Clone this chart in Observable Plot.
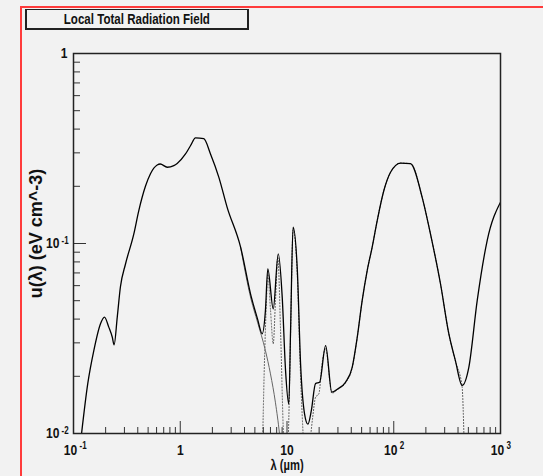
<!DOCTYPE html>
<html>
<head>
<meta charset="utf-8">
<script src="https://cdn.jsdelivr.net/npm/d3@7"></script>
<script src="https://cdn.jsdelivr.net/npm/@observablehq/plot@0.6"></script>
<style>
  html, body { margin: 0; padding: 0; background: #f2f2f2; width: 543px; height: 476px; overflow: hidden; }
  #page { position: relative; width: 543px; height: 476px; }
  #edge { position: absolute; left: 20px; top: 6px; right: -10px; bottom: -10px;
          border-left: 2px solid #ff3b3b; border-top: 2px solid #ff3b3b; }
  #title { position: absolute; left: 25px; top: 9px; width: 224px; height: 21px; box-sizing: border-box;
           border: 1px solid #222; border-left-width: 2px; border-right-width: 2px; border-bottom-width: 2px;
           font: bold 15px "Liberation Sans", Arial, sans-serif;
           text-align: center; line-height: 18px; color: #111; white-space: nowrap; }
  #title span { display: inline-block; transform: scaleX(0.77); transform-origin: center; }
  #chart { position: absolute; left: 0; top: 0; }
</style>
</head>
<body>
<div id="page">
  <div id="edge"></div>
  <div id="chart"></div>
  <div id="title"><span>Local Total Radiation Field</span></div>
</div>
<script>
// Local interstellar radiation field: energy density u(λ) in eV cm^-3 versus wavelength in µm.

// Total field
const totalLambda = [0.119, 0.136, 0.155, 0.179, 0.195, 0.214, 0.231, 0.240, 0.257, 0.275,
  0.307, 0.367, 0.409, 0.472, 0.526, 0.608, 0.650, 0.755, 0.87, 0.936,
  1.12, 1.25, 1.39, 1.66, 1.92, 2.30, 2.75, 3.67, 4.6, 5.3,
  5.86, 6.28, 6.61, 7.43, 8.28, 9.02, 9.69, 10.4, 10.8, 11.4,
  12.5, 13.4, 14.6, 15.7, 16.9, 18.5, 20.2, 23.0, 26.3, 30.0,
  35.3, 40.8, 45.5, 50.6, 56.4, 62.8, 70, 80.8, 93.3, 116,
  143.5, 184.6, 221, 274, 328, 378, 437, 505, 605, 751, 1000];
const totalU = [0.0100, 0.0183, 0.0273, 0.0378, 0.041, 0.0363, 0.0321, 0.0293, 0.041, 0.059,
  0.078, 0.112, 0.149, 0.200, 0.233, 0.259, 0.262, 0.252, 0.257, 0.264,
  0.296, 0.328, 0.360, 0.356, 0.296, 0.223, 0.155, 0.096, 0.053, 0.040,
  0.0335, 0.0444, 0.0736, 0.0453, 0.0882, 0.0522, 0.0215, 0.0143, 0.0348, 0.122,
  0.072, 0.0233, 0.0127, 0.0112, 0.0132, 0.0183, 0.0186, 0.029, 0.0165, 0.0172,
  0.0186, 0.0223, 0.0321, 0.050, 0.072, 0.0957, 0.132, 0.19, 0.237, 0.265,
  0.263, 0.175, 0.112, 0.0614, 0.0335, 0.0242, 0.0179, 0.0223, 0.050, 0.104, 0.165];

// Stellar component where it separates from the total
const starLambda = [3.67, 4.6, 5.3, 6.28, 7.0, 7.8, 8.5, 9.0];
const starU = [0.096, 0.051, 0.0385, 0.0273, 0.0206, 0.0145, 0.0100, 0.0072];

// Aromatic band emission
const pahLambda = [5.9, 6.1, 6.44, 6.61, 7.0, 7.43, 7.8, 8.2, 8.7, 9.2,
  9.6, 10.0, 10.4, 10.8, 11.4, 12.5, 13.4, 14.2, 14.6];
const pahU = [0.0085, 0.02, 0.052, 0.069, 0.045, 0.0297, 0.05, 0.0847, 0.035, 0.011,
  0.006, 0.006, 0.012, 0.033, 0.118, 0.068, 0.02, 0.0095, 0.007];

// Thermal dust emission
const dustLambda = [16.5, 17.5, 18.5, 19.9, 21.3, 23.0, 26.3, 30.0, 35.3, 40.8,
  45.5, 50.6, 56.4, 62.8, 70, 80.8, 93.3, 116, 143.5, 184.6,
  221, 274, 328, 378, 437, 455];
const dustU = [0.0092, 0.0125, 0.0155, 0.0162, 0.0233, 0.028, 0.0163, 0.0171, 0.0185, 0.0222,
  0.032, 0.050, 0.072, 0.0957, 0.132, 0.19, 0.237, 0.265, 0.263, 0.175,
  0.112, 0.0614, 0.0335, 0.0241, 0.0176, 0.0095];

// Axes: decade ticks, written as base and exponent
const xTicks = [0.1, 1, 10, 100, 1000];
const xTickBase = ["10", "1", "10", "10", "10"];
const xTickExp = ["-1", "", "", "2", "3"];
const yTicks = [0.01, 0.1, 1];
const yTickBase = ["10", "10", "1"];
const yTickExp = ["-2", "-1", ""];
const xTitle = "λ (µm)";
const yTitle = "u(λ) (eV cm^-3)";

const series = (xs, ys) => xs.map((x, i) => ({lambda: x, u: ys[i]}));
const total = series(totalLambda, totalU);
const star = series(starLambda, starU);
const pah = series(pahLambda, pahU);
const dust = series(dustLambda, dustU);

const xLabels = xTicks.map((v, i) => ({v, base: xTickBase[i], exp: xTickExp[i]}));
const yLabels = yTicks.map((v, i) => ({v, base: yTickBase[i], exp: yTickExp[i]}));

// minor ticks at 2..9 within each decade
const minors = (decades) => decades.flatMap(d => [2, 3, 4, 5, 6, 7, 8, 9].map(k => d * k));
const xMinor = minors([0.1, 1, 10, 100]);
const yMinor = minors([0.01, 0.1]);

const ink = "#111";

const chart = Plot.plot({
  width: 543,
  height: 476,
  marginLeft: 73,
  marginRight: 43,
  marginTop: 53,
  marginBottom: 43,
  style: {background: "transparent", fontFamily: '"Liberation Sans", Arial, sans-serif', fontWeight: "bold", fontSize: "15px", color: ink},
  x: {type: "log", domain: [0.1, 1000]},
  y: {type: "log", domain: [0.01, 1]},
  marks: [
    // component curves, drawn beneath the total
    Plot.line(dust, {x: "lambda", y: "u", stroke: "#555", strokeWidth: 1, strokeDasharray: "1,2", curve: "monotone-x", clip: true}),
    Plot.line(pah, {x: "lambda", y: "u", stroke: "#555", strokeWidth: 1, strokeDasharray: "1,2", curve: "monotone-x", clip: true}),
    Plot.line(star, {x: "lambda", y: "u", stroke: "#666", strokeWidth: 1, curve: "monotone-x", clip: true}),
    Plot.line(total, {x: "lambda", y: "u", stroke: "#000", strokeWidth: 1.3, curve: "monotone-x", clip: true}),

    // inward ticks
    Plot.axisX({ticks: xMinor, tickSize: -6, tickFormat: () => "", stroke: "#333", label: null}),
    Plot.axisX({ticks: xTicks, tickSize: -12, tickFormat: () => "", stroke: "#333", label: null}),
    Plot.axisY({ticks: yMinor, tickSize: -7, tickFormat: () => "", stroke: "#333", label: null}),
    Plot.axisY({ticks: yTicks, tickSize: -13, tickFormat: () => "", stroke: "#333", label: null}),

    // x tick labels: base centred under the tick, exponent raised to its right
    Plot.text(xLabels.filter(d => d.exp), {x: "v", text: "base", frameAnchor: "bottom", lineAnchor: "top", dy: 11, dx: -3, fill: ink}),
    Plot.text(xLabels.filter(d => !d.exp), {x: "v", text: "base", frameAnchor: "bottom", lineAnchor: "top", dy: 11, fill: ink}),
    Plot.text(xLabels.filter(d => d.exp), {x: "v", text: "exp", frameAnchor: "bottom", lineAnchor: "top", textAnchor: "start", dy: 8, dx: 6, fontSize: 10, fill: ink}),

    // y tick labels
    Plot.text(yLabels.filter(d => d.exp), {y: "v", text: "base", frameAnchor: "left", textAnchor: "end", dx: -14, fill: ink}),
    Plot.text(yLabels.filter(d => !d.exp), {y: "v", text: "base", frameAnchor: "left", textAnchor: "end", dx: -6, fill: ink}),
    Plot.text(yLabels.filter(d => d.exp), {y: "v", text: "exp", frameAnchor: "left", textAnchor: "start", lineAnchor: "top", dx: -12, dy: -7, fontSize: 10, fill: ink}),

    // axis titles
    Plot.text([xTitle], {frameAnchor: "bottom", dy: 36, text: d => d, fontSize: 14, fill: ink}),
    Plot.text([yTitle], {frameAnchor: "left", textAnchor: "middle", rotate: -90, text: d => d, fontSize: 18, fill: ink}),

    Plot.frame({stroke: "#222", strokeWidth: 1.5})
  ]
});

document.getElementById("chart").appendChild(chart);

d3.select(chart).selectAll("text").each(function () {
  const s = this.textContent;
  if (!s) return;
  if (s === yTitle) {
    // rotated axis title, centred beside the frame
    this.setAttribute("transform", "translate(41,233) rotate(-90)");
    this.removeAttribute("x");
    this.removeAttribute("y");
    return;
  }
  // condensed lettering for horizontal labels
  const len = this.getComputedTextLength();
  if (len > 0) {
    this.setAttribute("textLength", (len * 0.8).toFixed(1));
    this.setAttribute("lengthAdjust", "spacingAndGlyphs");
  }
});
</script>
</body>
</html>
